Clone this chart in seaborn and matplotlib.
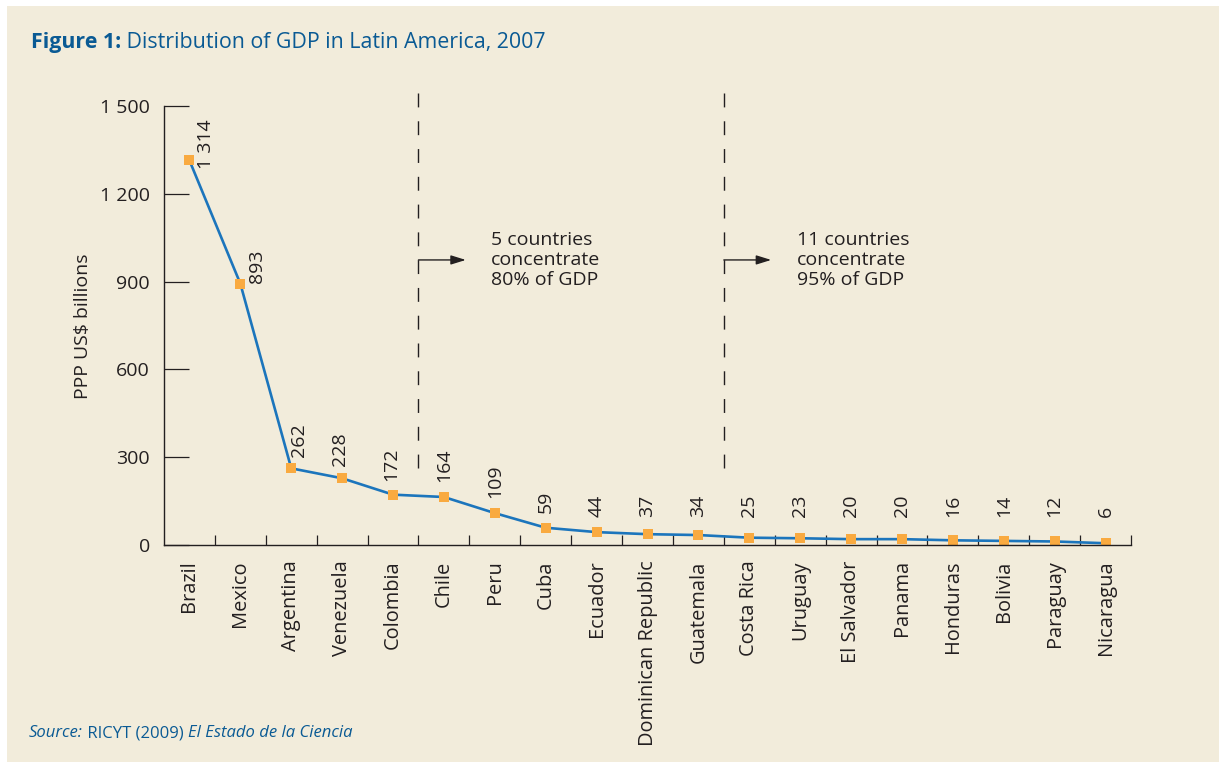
import pandas as pd
import seaborn as sns
import matplotlib.pyplot as plt
from matplotlib.patches import Rectangle

countries = ['Brazil', 'Mexico', 'Argentina', 'Venezuela', 'Colombia', 'Chile', 'Peru',
             'Cuba', 'Ecuador', 'Dominican Republic', 'Guatemala', 'Costa Rica', 'Uruguay',
             'El Salvador', 'Panama', 'Honduras', 'Bolivia', 'Paraguay', 'Nicaragua']
gdp = [1314, 893, 262, 228, 172, 164, 109, 59, 44, 37, 34, 25, 23, 20, 20, 16, 14, 12, 6]
y_ticks = [0, 300, 600, 900, 1200, 1500]
notes = ['5 countries\nconcentrate\n80% of GDP', '11 countries\nconcentrate\n95% of GDP']
note_after = [5, 11]  # number of countries left of each dashed line

BLUE = '#1c75bc'
ORANGE = '#f9aa40'
INK = '#231f20'
TITLE_BLUE = '#0a5a94'
BEIGE = '#f2ecdb'

sns.set_style('white')
plt.rcParams['font.family'] = ['Open Sans', 'DejaVu Sans']
plt.rcParams['text.color'] = INK

W, H = 1219, 762
fig = plt.figure(figsize=(W / 100, H / 100), dpi=100, facecolor='white')
fig.patches.append(Rectangle((7 / W, -0.01), 1.01, 1.01 - 6 / H, transform=fig.transFigure,
                             facecolor=BEIGE, edgecolor='none', zorder=-10))

ax = fig.add_axes([164 / W, 1 - 545 / H, 967 / W, 439 / H])
ax.set_facecolor('none')

df = pd.DataFrame({'pos': range(len(countries)), 'country': countries, 'gdp': gdp})
sns.lineplot(data=df, x='pos', y='gdp', ax=ax, color=BLUE, linewidth=1.9,
             marker='s', markersize=7, markerfacecolor=ORANGE, markeredgewidth=0)

ax.set_xlim(-0.5, len(countries) - 0.5)
ax.set_ylim(0, 1500)

# spines
for side in ['top', 'right']:
    ax.spines[side].set_visible(False)
for side in ['left', 'bottom']:
    ax.spines[side].set_color(INK)
    ax.spines[side].set_linewidth(1.0)

# y axis
ax.set_yticks(y_ticks)
ax.set_yticklabels([f'{v:,}'.replace(',', ' ') for v in y_ticks])
ax.tick_params(axis='y', direction='in', length=18, width=0.9, color=INK,
               labelsize=14, pad=10, labelcolor=INK, left=True)
ax.set_ylabel('')
fig.text(83 / W, 1 - 326 / H, 'PPP US$ billions', rotation=90, ha='center', va='center',
         fontsize=14, color=INK)

# x axis: labels at categories, ticks at boundaries
ax.set_xticks(df['pos'])
ax.set_xticklabels(countries, rotation=90)
ax.set_xticks([p + 0.5 for p in df['pos']], minor=True)
ax.tick_params(axis='x', which='major', length=0, labelsize=14.4, pad=11, labelcolor=INK)
ax.tick_params(axis='x', which='minor', direction='in', length=7, width=0.9, color=INK,
               bottom=True)
ax.set_xlabel('')

# value labels
nudges = {0: (17, -9), 1: (17, 1), 2: (8, 11), 3: (-2, 12), 4: (-2, 14)}
for i, v in enumerate(gdp):
    dx, dy = nudges.get(i, (0, 15))
    ax.annotate(f'{v:,}'.replace(',', ' '), xy=(i, max(v, 45)), xytext=(dx, dy),
                textcoords='offset pixels', rotation=90, ha='center', va='bottom',
                fontsize=14, color=INK)

# dashed separators, arrows and notes
for n, note in zip(note_after, notes):
    xb = n - 0.5
    ax.plot([xb, xb], [1544, 225], color=INK, linewidth=1.0, linestyle=(0, (10, 10)),
            clip_on=False)
    ax.annotate('', xy=(xb + 0.93, 974), xytext=(xb, 974),
                arrowprops=dict(arrowstyle='-|>,head_length=0.9,head_width=0.28',
                                color=INK, linewidth=1.0, shrinkA=0, shrinkB=0))
    ax.text(xb + 1.43, 974, note, ha='left', va='center', fontsize=14, color=INK,
            linespacing=1.12)

# title and source, mixed styles
fig.canvas.draw()
r = fig.canvas.get_renderer()


def run_text(x_px, y_px, parts, size):
    for txt, style, weight in parts:
        t = fig.text(x_px / W, 1 - y_px / H, txt, fontsize=size, color=TITLE_BLUE,
                     style=style, weight=weight, va='baseline', ha='left')
        x_px = t.get_window_extent(renderer=r).x1


run_text(31, 48, [('Figure 1:', 'normal', 'bold'),
                  (' Distribution of GDP in Latin America, 2007', 'normal', 'normal')], 15.4)
run_text(29, 737, [('Source:', 'italic', 'normal'), (' RICYT (2009) ', 'normal', 'normal'),
                   ('El Estado de la Ciencia', 'italic', 'normal')], 12)

fig.savefig('out.png', dpi=100, facecolor='white')
